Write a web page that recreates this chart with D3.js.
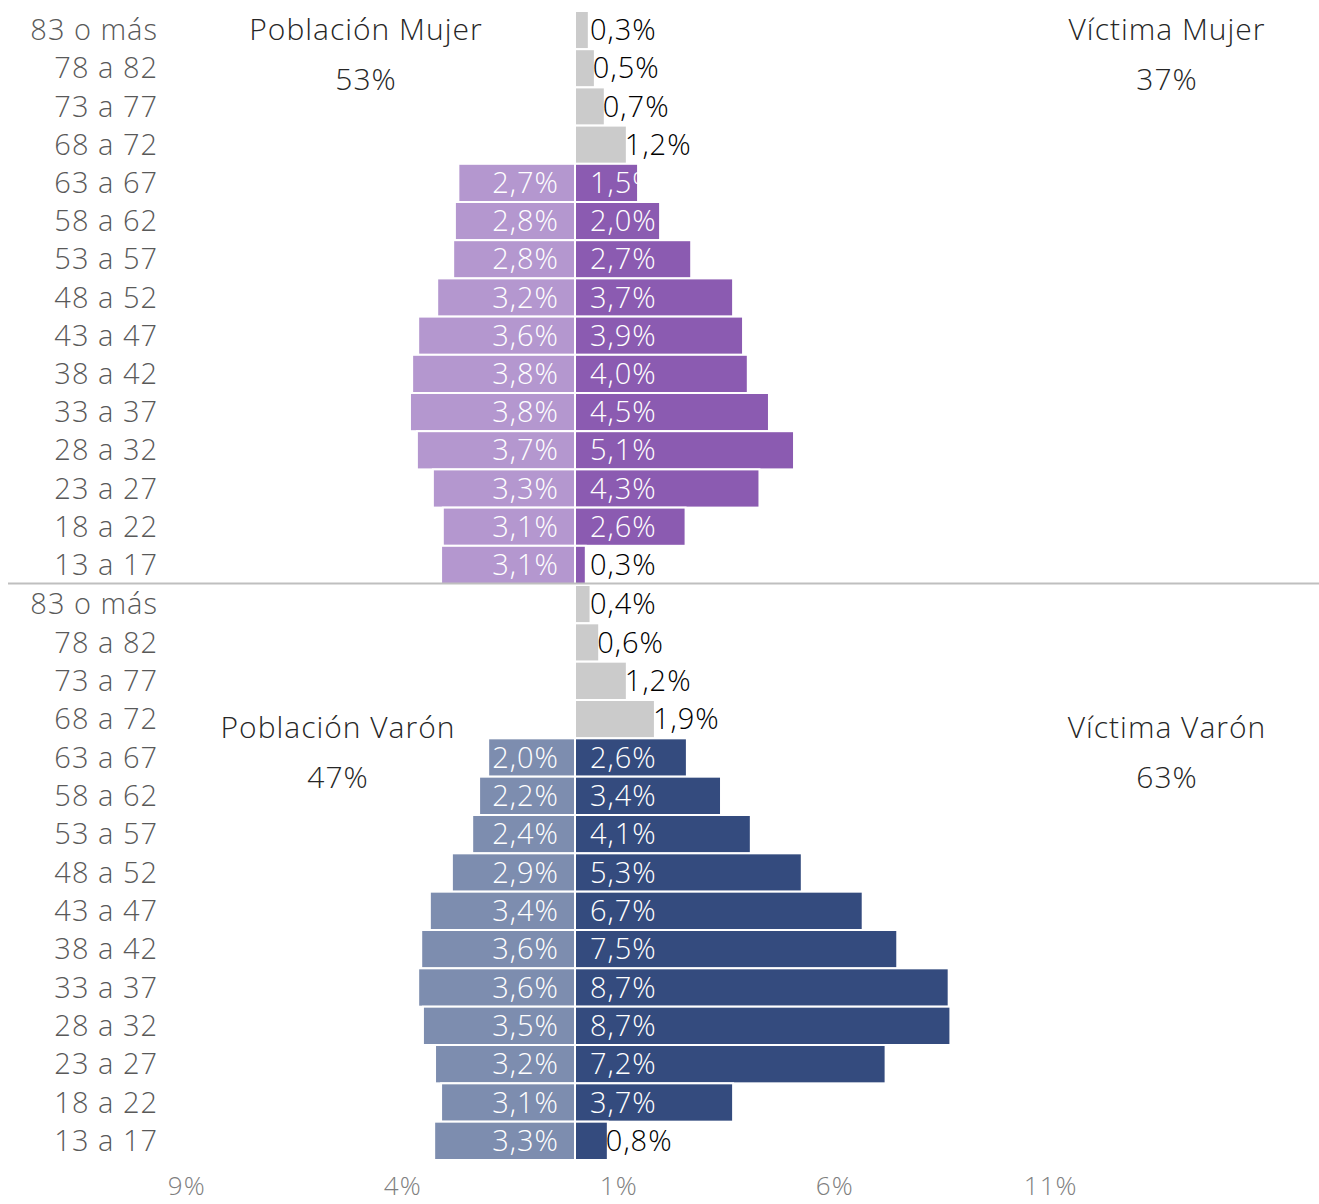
<!DOCTYPE html>
<html>
<head>
<meta charset="utf-8">
<script src="https://cdn.jsdelivr.net/npm/d3@7"></script>
<style>
  body { margin: 0; background: #fff; }
  svg text { font-family: "Open Sans", sans-serif; font-weight: 300; letter-spacing: 1px; }
</style>
</head>
<body>
<svg width="1319" height="1204"></svg>
<script>
let ages = ['83 o más', '78 a 82', '73 a 77', '68 a 72', '63 a 67', '58 a 62', '53 a 57',
    '48 a 52', '43 a 47', '38 a 42', '33 a 37', '28 a 32', '23 a 27', '18 a 22', '13 a 17']

// population share (left side), null where not shown
let pobMujer = [null, null, null, null, 2.7, 2.78, 2.82, 3.19, 3.63, 3.77, 3.82, 3.66, 3.29, 3.06, 3.1]
let pobVaron = [null, null, null, null, 2.01, 2.22, 2.38, 2.85, 3.36, 3.56, 3.63, 3.52, 3.24, 3.1, 3.26]

// victims share (right side)
let vicMujer = [0.32, 0.46, 0.69, 1.2, 1.46, 1.97, 2.69, 3.66, 3.89, 4.0, 4.49, 5.07, 4.27, 2.56, 0.25]
let vicVaron = [0.36, 0.56, 1.2, 1.85, 2.59, 3.38, 4.07, 5.25, 6.66, 7.46, 8.65, 8.69, 7.19, 3.66, 0.76]

let grayAges = ['83 o más', '78 a 82', '73 a 77', '68 a 72']

let ticks = [-9, -4, 1, 6, 11]

let panels = [
    { pob: pobMujer, vic: vicMujer, pobName: 'Población Mujer', pobTotal: '53%', vicName: 'Víctima Mujer', vicTotal: '37%',
      cPob: '#b497cf', cVic: '#8b5bb1', top: 11, bottom: 584, titleY: 40, pobX: 366 },
    { pob: pobVaron, vic: vicVaron, pobName: 'Población Varón', pobTotal: '47%', vicName: 'Víctima Varón', vicTotal: '63%',
      cPob: '#7d8daf', cVic: '#344b7e', top: 585, bottom: 1160, titleY: 738, pobX: 338 }
]

let fmt = v => d3.format('.1f')(v).replace('.', ',') + '%'

let svg = d3.select('svg')
let x = d3.scaleLinear().domain([-9, 11]).range([186.2, 1050.2])

panels.forEach(p => {
    let y = d3.scaleBand().domain(ages).range([p.top, p.bottom])
    let g = svg.append('g')

    let pobRows = ages.map((a, i) => ({ age: a, v: p.pob[i] })).filter(d => d.v != null)
    let vicRows = ages.map((a, i) => ({ age: a, v: p.vic[i] }))

    g.selectAll('rect.pob')
        .data(pobRows)
        .enter()
        .append('rect')
        .attr('x', d => x(-d.v))
        .attr('width', d => x(0) - x(-d.v))
        .attr('y', d => y(d.age))
        .attr('height', y.bandwidth())
        .attr('fill', p.cPob)
        .attr('stroke', '#fff')
        .attr('stroke-width', 2)

    g.selectAll('rect.vic')
        .data(vicRows)
        .enter()
        .append('rect')
        .attr('x', x(0))
        .attr('width', d => x(d.v) - x(0))
        .attr('y', d => y(d.age))
        .attr('height', y.bandwidth())
        .attr('fill', d => grayAges.includes(d.age) ? '#cbcbcb' : p.cVic)
        .attr('stroke', '#fff')
        .attr('stroke-width', 2)

    g.selectAll('text.pob')
        .data(pobRows)
        .enter()
        .append('text')
        .text(d => fmt(d.v))
        .attr('x', x(0) - 16)
        .attr('y', d => y(d.age) + y.bandwidth() / 2 + 10)
        .attr('text-anchor', 'end')
        .attr('font-size', 29)
        .attr('fill', '#fff')

    let dark = d => grayAges.includes(d.age) || d.v < 1
    g.selectAll('text.vic')
        .data(vicRows)
        .enter()
        .append('text')
        .text(d => fmt(d.v))
        .attr('x', d => dark(d) ? Math.max(x(d.v) - 2, 590) : x(0) + 15)
        .attr('y', d => y(d.age) + y.bandwidth() / 2 + 10)
        .attr('font-size', 29)
        .attr('fill', d => dark(d) ? '#000' : '#fff')

    g.selectAll('text.age')
        .data(ages)
        .enter()
        .append('text')
        .text(d => d)
        .attr('x', 158)
        .attr('y', d => y(d) + y.bandwidth() / 2 + 10)
        .attr('text-anchor', 'end')
        .attr('font-size', 29)
        .attr('fill', '#595959')

    let t = g.append('g').attr('font-size', 30).attr('fill', '#262626').attr('text-anchor', 'middle')
    t.append('text').attr('x', p.pobX).attr('y', p.titleY).text(p.pobName)
    t.append('text').attr('x', p.pobX).attr('y', p.titleY + 50).text(p.pobTotal)
    t.append('text').attr('x', 1167).attr('y', p.titleY).text(p.vicName)
    t.append('text').attr('x', 1167).attr('y', p.titleY + 50).text(p.vicTotal)
})

// divider between panels
svg.append('line')
    .attr('x1', 8).attr('x2', 1319)
    .attr('y1', 583.5).attr('y2', 583.5)
    .attr('stroke', '#bfbfbf')
    .attr('stroke-width', 2)

let axis = svg.append('g')
    .attr('transform', 'translate(0,1174)')
    .call(d3.axisBottom(x).tickValues(ticks).tickSize(0).tickFormat(d => Math.abs(d) + '%'))
axis.select('.domain').remove()
axis.selectAll('text')
    .attr('font-size', 26)
    .attr('fill', '#7f7f7f')
    .attr('font-family', '"Open Sans", sans-serif')
</script>
</body>
</html>
